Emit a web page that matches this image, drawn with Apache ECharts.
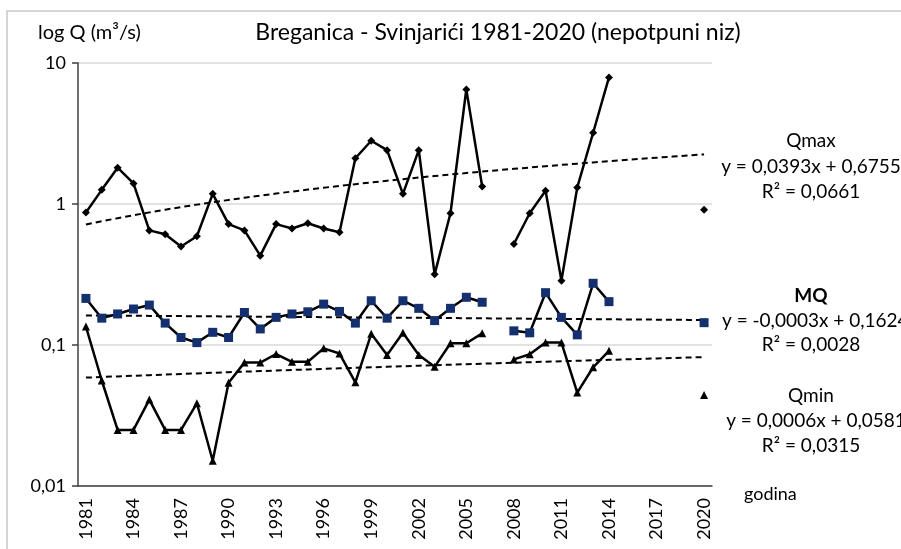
<!DOCTYPE html>
<html>
<head>
<meta charset="utf-8">
<script src="https://cdn.jsdelivr.net/npm/echarts@6/dist/echarts.min.js"></script>
<style>
  html, body { margin: 0; padding: 0; background: #fff; }
  #chart { width: 901px; height: 549px; }
</style>
</head>
<body>
<div id="chart"></div>
<script>
// godine 1981-2020
const years = [];
for (let y = 1981; y <= 2020; y++) years.push(String(y));

// Qmax (m3/s), null = nema podataka
const qmax = [0.87, 1.26, 1.81, 1.40, 0.65, 0.61, 0.50, 0.59, 1.18, 0.72,
              0.65, 0.43, 0.72, 0.67, 0.73, 0.67, 0.63, 2.11, 2.81, 2.41,
              1.18, 2.41, 0.317, 0.86, 6.5, 1.33, null, 0.52, 0.86, 1.24,
              0.286, 1.31, 3.2, 7.9, null, null, null, null, null, 0.91];

// MQ (m3/s)
const mq = [0.214, 0.155, 0.166, 0.180, 0.192, 0.143, 0.113, 0.104, 0.123, 0.113,
            0.170, 0.130, 0.157, 0.166, 0.172, 0.195, 0.173, 0.143, 0.206, 0.155,
            0.206, 0.182, 0.149, 0.182, 0.218, 0.201, null, 0.126, 0.122, 0.235,
            0.157, 0.118, 0.274, 0.203, null, null, null, null, null, 0.144];

// Qmin (m3/s)
const qmin = [0.135, 0.056, 0.025, 0.025, 0.041, 0.025, 0.025, 0.0386, 0.0151, 0.054,
              0.075, 0.075, 0.0863, 0.076, 0.076, 0.0947, 0.087, 0.0544, 0.120, 0.085,
              0.122, 0.085, 0.070, 0.103, 0.103, 0.121, null, 0.079, 0.086, 0.104,
              0.104, 0.046, 0.0695, 0.091, null, null, null, null, null, 0.0442];

// linearni trendovi (y = a*x + b, x = 1..40) kako pise na grafu
const trendQmax = [0.0393, 0.6755];
const trendMq = [-0.0003, 0.1624];
const trendQmin = [0.0006, 0.0581];

const yTicks = ['10', '1', '0,1', '0,01'];

const FONT = 'Lato';
const chart = echarts.init(document.getElementById('chart'));

function trendLine(c) {
    return years.map((_, i) => +(c[0] * (i + 1) + c[1]).toFixed(5));
}

function dataSeries(name, data, symbol, size, color) {
    return {
        name, type: 'line', data, symbol, symbolSize: size,
        showAllSymbol: true, connectNulls: false,
        lineStyle: { color: '#000', width: 2.5 },
        itemStyle: { color },
        z: 3
    };
}

function trendSeries(name, coef) {
    return {
        name, type: 'line', data: trendLine(coef), symbol: 'none',
        lineStyle: { color: '#000', width: 2, type: [6, 4] },
        z: 2
    };
}

function txt(x, y, text, opts) {
    return {
        type: 'text', x, y,
        style: Object.assign({
            text, fill: '#000', font: '19px ' + FONT,
            align: 'center', verticalAlign: 'middle'
        }, opts || {})
    };
}

chart.setOption({
    animation: false,
    grid: { left: 78, right: 189, top: 63, bottom: 63 },
    xAxis: {
        type: 'category', data: years, boundaryGap: true,
        axisLine: { lineStyle: { color: '#404040', width: 1.5 } },
        axisTick: { interval: 0, length: 6, lineStyle: { color: '#404040', width: 1.5 } },
        axisLabel: { interval: 2, rotate: 90, margin: 12, color: '#000', fontSize: 18, fontFamily: FONT }
    },
    yAxis: {
        type: 'log', logBase: 10, min: 0.01, max: 10,
        axisLine: { show: true, lineStyle: { color: '#404040', width: 1.5 } },
        axisTick: { show: true, length: 6, lineStyle: { color: '#404040', width: 1.5 } },
        splitLine: { lineStyle: { color: '#d9d9d9', width: 1.5 } },
        axisLabel: {
            color: '#000', fontSize: 18, fontFamily: FONT, margin: 12,
            formatter: v => v >= 10 ? yTicks[0] : v >= 1 ? yTicks[1] : v >= 0.1 ? yTicks[2] : yTicks[3]
        }
    },
    series: [
        trendSeries('Qmax trend', trendQmax),
        trendSeries('MQ trend', trendMq),
        trendSeries('Qmin trend', trendQmin),
        dataSeries('Qmax', qmax, 'diamond', 8, '#000'),
        dataSeries('MQ', mq, 'rect', 9, '#14306e'),
        dataSeries('Qmin', qmin, 'triangle', 8, '#000')
    ],
    graphic: [
        { type: 'polyline', shape: { points: [[7, 549], [7, 11], [901, 11]] },
          style: { stroke: '#c8c8c8', lineWidth: 1.5, fill: null } },
        txt(498, 33, 'Breganica - Svinjarići 1981-2020 (nepotpuni niz)', { font: '23px ' + FONT }),
        txt(38, 33, 'log Q (m³/s)', { align: 'left', font: '20px ' + FONT }),
        txt(744, 494, 'godina', { align: 'left', font: '18px ' + FONT }),
        txt(811, 141, 'Qmax'),
        txt(811, 167, 'y = 0,0393x + 0,6755'),
        txt(811, 192, 'R² = 0,0661'),
        txt(811, 296, 'MQ', { font: 'bold 19px ' + FONT }),
        { type: 'text', x: 722, y: 321, style: { text: 'y = -0,0003x + 0,1624', fill: '#000',
          font: '19px ' + FONT, align: 'left', verticalAlign: 'middle' } },
        txt(811, 345, 'R² = 0,0028'),
        txt(811, 396, 'Qmin'),
        txt(816, 421, 'y = 0,0006x + 0,0581'),
        txt(811, 446, 'R² = 0,0315')
    ]
});
</script>
</body>
</html>
